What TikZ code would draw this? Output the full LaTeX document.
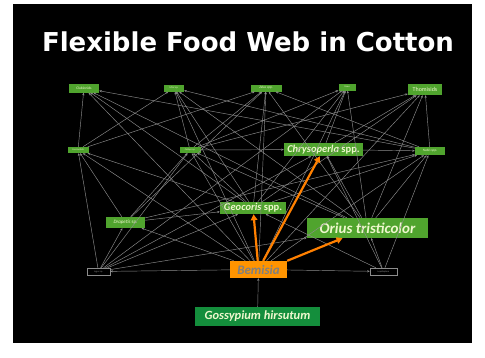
\documentclass[tikz,border=0pt]{standalone}
\usepackage{fontspec}
\setmainfont{Carlito}
\newfontfamily\titlefont{DejaVu Sans}
\usetikzlibrary{arrows.meta}
\definecolor{webgreen}{RGB}{80,164,46}
\definecolor{cottongreen}{RGB}{20,142,60}
\definecolor{whitefly}{RGB}{255,148,0}
\definecolor{feedorange}{RGB}{255,128,0}
\definecolor{linkgray}{RGB}{140,140,140}
\definecolor{taxontext}{RGB}{238,248,205}
\tikzset{
  taxon/.style={fill=webgreen, text=taxontext, inner sep=0pt},
  other/.style={draw=linkgray, fill=black, text=linkgray, inner sep=0pt, line width=0.5pt},
  link/.style={draw=linkgray, line width=0.45pt, -{Stealth[length=2.6pt,width=2.2pt]}},
  feed/.style={draw=feedorange, line width=2.2pt, -{Triangle[length=6pt,width=6.5pt]}},
  tiny/.style={font=\fontsize{#1}{#1}\selectfont}
}
\begin{document}
\begin{tikzpicture}[x=1pt, y=-1pt]
  \useasboundingbox (0,0) rectangle (485,357);
  % slide
  \fill[black] (13,4) rectangle (472,343);
  \node[font=\titlefont\bfseries\fontsize{26}{30}\selectfont, text=white] (title) at (248,42) {Flexible Food Web in Cotton};
  % top row
  \node[taxon, minimum width=30, minimum height=9, tiny=3.6] (clu) at (84,88) {Clubionids};
  \node[taxon, minimum width=20, minimum height=7, tiny=2.6] (misc) at (174,88) {Misc sp.};
  \node[taxon, minimum width=31, minimum height=7, tiny=3.4] (zel) at (266,88) {\itshape Zelus spp.};
  \node[taxon, minimum width=17, minimum height=7, tiny=2.4] (sin) at (347,87) {\itshape Sinea};
  \node[taxon, minimum width=34, minimum height=11, tiny=6] (tho) at (425,89.5) {Thomisids};
  % second row
  \node[taxon, minimum width=21, minimum height=6, tiny=2.4] (coc) at (78,150) {Coccinellids};
  \node[taxon, minimum width=21, minimum height=6, tiny=2.4] (col) at (190,150) {\itshape Collops sp.};
  \node[taxon, minimum width=79, minimum height=13, tiny=10.5] (chr) at (323.5,149.5) {\bfseries\itshape Chrysoperla \upshape spp.};
  \node[taxon, minimum width=30, minimum height=8, tiny=3.4] (nab) at (430,151) {\itshape Nabis \upshape spp.};
  % third row
  \node[taxon, minimum width=39, minimum height=11, tiny=5] (dra) at (125.5,222.5) {\itshape Drapetis \upshape sp.};
  \node[taxon, minimum width=66, minimum height=12, tiny=10.5] (geo) at (253,208) {\bfseries\itshape Geocoris \upshape spp.};
  \node[taxon, minimum width=121, minimum height=20, tiny=15] (ori) at (367.5,228) {\bfseries\itshape Orius tristicolor};
  % prey and plant
  \node[other, minimum width=23, minimum height=7, tiny=2.4] (lyg) at (98.5,271.5) {\itshape Lygus sp.};
  \node[fill=whitefly, text=gray, inner sep=0pt, minimum width=57, minimum height=17, tiny=13] (bem) at (258.5,269.5) {\bfseries\itshape Bemisia};
  \node[other, minimum width=27, minimum height=7, tiny=2.4] (lep) at (383.5,271.5) {Lepidoptera};
  \node[fill=cottongreen, text=taxontext, inner sep=0pt, minimum width=125, minimum height=19, tiny=12.5] (gos) at (257.5,316.5) {\bfseries\itshape Gossypium hirsutum};
  % gray links, prey/predator
  \foreach \a/\b in {coc/clu, geo/clu, bem/clu, nab/clu, ori/clu,
                     coc/misc, nab/misc, col/misc, bem/misc, geo/misc, ori/misc,
                     coc/zel, col/zel, geo/zel, bem/zel, ori/zel, nab/zel, dra/zel,
                     col/sin, chr/sin, geo/sin, ori/sin, bem/sin, lyg/sin,
                     nab/tho, chr/tho, ori/tho, bem/tho, geo/tho, col/tho,
                     lyg/coc, bem/coc, geo/coc, dra/coc,
                     lyg/col, dra/col, bem/col, geo/col, ori/col,
                     col/chr, lyg/chr, lep/chr, ori/chr,
                     chr/nab, geo/nab, ori/nab, bem/nab, lep/nab, dra/nab,
                     dra/geo, lyg/geo, lep/geo,
                     lyg/dra, bem/dra, lep/ori, lyg/ori,
                     bem/lyg, bem/lep, gos/bem}
    \draw[link] (\a) -- (\b);
  % whitefly predators
  \draw[feed] (bem) -- (geo);
  \draw[feed] (bem) -- (chr);
  \draw[feed] (bem.north east) -- (ori);
\end{tikzpicture}
\end{document}
